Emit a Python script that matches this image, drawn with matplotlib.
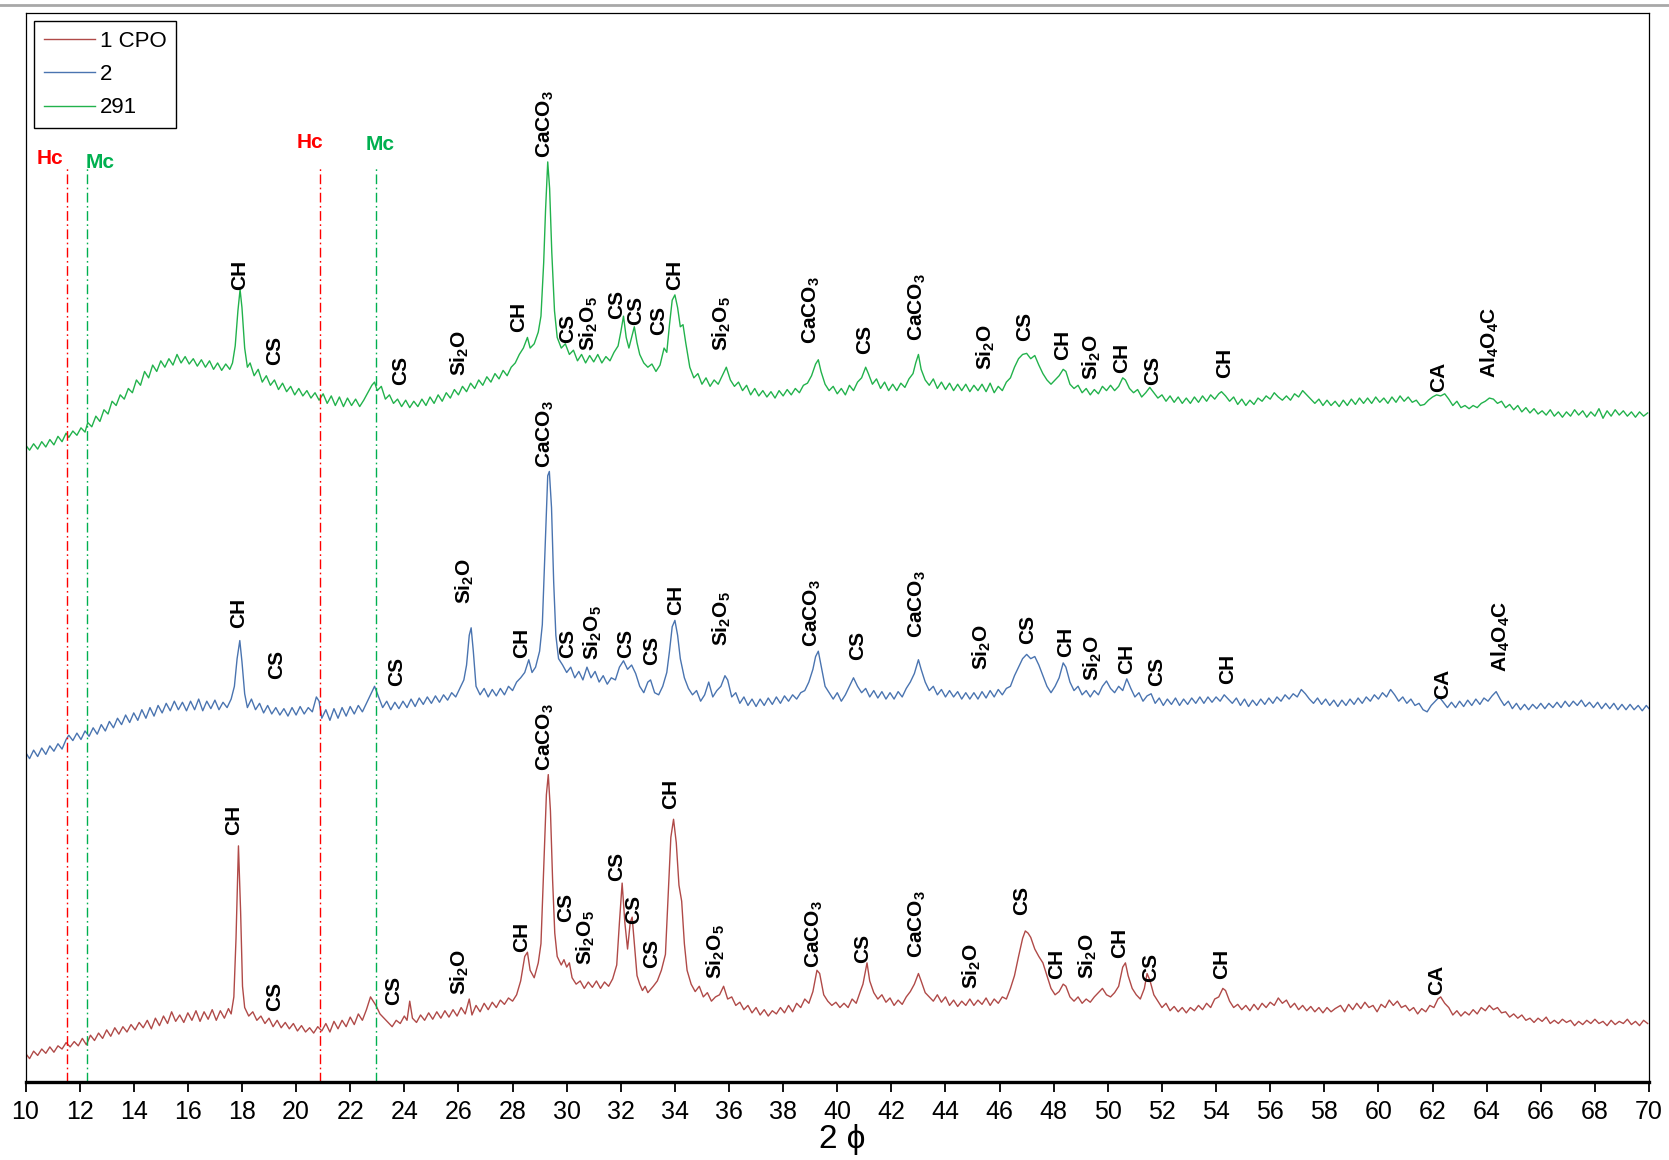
import matplotlib
matplotlib.use("Agg")
import matplotlib.pyplot as plt
from matplotlib.lines import Line2D
import numpy as np

plt.rcParams['font.family'] = ['Liberation Sans', 'DejaVu Sans']
plt.rcParams['mathtext.fontset'] = 'custom'
plt.rcParams['mathtext.rm'] = 'Liberation Sans'
plt.rcParams['mathtext.bf'] = 'Liberation Sans:bold'
plt.rcParams['mathtext.default'] = 'bf'

# difractogramas (2theta, intensidad desplazada), muestras 1 CPO, 2 y 291
cpo1 = [
    (10.0, 27), (10.15, 22), (10.3, 29), (10.45, 25), (10.6, 31), (10.75, 27), (10.9, 33), (11.05, 28),
    (11.2, 34), (11.35, 31), (11.5, 37), (11.65, 33), (11.8, 38), (11.95, 34), (12.1, 41), (12.25, 35),
    (12.4, 44), (12.55, 39), (12.7, 46), (12.85, 41), (13.0, 49), (13.15, 43), (13.3, 51), (13.45, 45),
    (13.6, 52), (13.75, 47), (13.9, 54), (14.05, 49), (14.2, 56), (14.35, 51), (14.5, 58), (14.65, 50),
    (14.8, 60), (14.95, 53), (15.1, 62), (15.25, 55), (15.4, 66), (15.55, 57), (15.7, 63), (15.85, 56),
    (16.0, 65), (16.15, 58), (16.3, 67), (16.45, 57), (16.6, 66), (16.75, 59), (16.9, 68), (17.05, 58),
    (17.2, 67), (17.35, 60), (17.5, 69), (17.6, 64), (17.7, 80), (17.78, 135), (17.87, 222), (17.95, 160),
    (18.02, 90), (18.1, 70), (18.25, 62), (18.4, 66), (18.55, 58), (18.7, 62), (18.85, 55), (19.0, 60),
    (19.15, 52), (19.3, 58), (19.45, 51), (19.6, 56), (19.75, 50), (19.9, 55), (20.05, 48), (20.2, 53),
    (20.35, 47), (20.5, 51), (20.65, 46), (20.8, 52), (20.95, 48), (21.1, 55), (21.25, 47), (21.4, 57),
    (21.55, 50), (21.7, 58), (21.85, 52), (22.0, 61), (22.15, 54), (22.3, 64), (22.45, 58), (22.6, 68),
    (22.75, 80), (22.85, 76), (22.95, 72), (23.1, 64), (23.25, 60), (23.4, 56), (23.55, 52), (23.7, 58),
    (23.85, 55), (24.0, 62), (24.1, 58), (24.2, 76), (24.3, 60), (24.45, 56), (24.6, 63), (24.75, 58),
    (24.9, 65), (25.05, 59), (25.2, 66), (25.35, 60), (25.5, 67), (25.65, 61), (25.8, 68), (25.95, 62),
    (26.1, 70), (26.25, 64), (26.4, 78), (26.5, 63), (26.65, 72), (26.8, 66), (26.95, 74), (27.1, 68),
    (27.25, 75), (27.4, 70), (27.55, 77), (27.7, 73), (27.85, 79), (28.0, 76), (28.15, 82), (28.3, 95),
    (28.45, 118), (28.55, 122), (28.65, 105), (28.8, 98), (28.95, 112), (29.05, 130), (29.15, 200),
    (29.25, 270), (29.32, 289), (29.4, 255), (29.48, 190), (29.56, 140), (29.65, 118), (29.8, 110),
    (29.9, 115), (30.0, 108), (30.1, 112), (30.2, 98), (30.35, 92), (30.5, 95), (30.65, 88), (30.8, 94),
    (30.95, 89), (31.1, 95), (31.25, 88), (31.4, 94), (31.55, 90), (31.7, 97), (31.85, 110), (31.95, 150),
    (32.05, 187), (32.15, 150), (32.25, 125), (32.35, 150), (32.42, 155), (32.5, 130), (32.6, 100),
    (32.7, 92), (32.8, 86), (32.9, 90), (33.0, 84), (33.2, 90), (33.35, 95), (33.5, 105), (33.65, 120),
    (33.75, 175), (33.85, 230), (33.95, 247), (34.05, 225), (34.15, 185), (34.25, 170), (34.35, 130),
    (34.45, 105), (34.6, 92), (34.75, 85), (34.9, 90), (35.05, 80), (35.2, 84), (35.35, 76), (35.5, 80),
    (35.65, 82), (35.8, 90), (35.95, 78), (36.1, 80), (36.25, 72), (36.4, 75), (36.55, 68), (36.7, 72),
    (36.85, 65), (37.0, 70), (37.15, 63), (37.3, 68), (37.45, 62), (37.6, 67), (37.75, 64), (37.9, 70),
    (38.05, 65), (38.2, 72), (38.35, 66), (38.5, 74), (38.65, 70), (38.8, 78), (38.95, 74), (39.1, 85),
    (39.25, 105), (39.35, 102), (39.5, 82), (39.65, 76), (39.8, 72), (39.95, 75), (40.1, 70), (40.25, 74),
    (40.4, 70), (40.55, 78), (40.7, 74), (40.85, 85), (40.95, 92), (41.1, 112), (41.2, 95), (41.35, 84),
    (41.5, 78), (41.65, 82), (41.8, 75), (41.95, 79), (42.1, 72), (42.25, 77), (42.4, 73), (42.55, 80),
    (42.7, 85), (42.85, 92), (43.0, 102), (43.1, 95), (43.25, 84), (43.4, 80), (43.55, 76), (43.7, 82),
    (43.85, 75), (44.0, 80), (44.15, 72), (44.3, 77), (44.45, 71), (44.6, 76), (44.75, 72), (44.9, 78),
    (45.05, 72), (45.2, 77), (45.35, 73), (45.5, 79), (45.65, 72), (45.8, 78), (45.95, 74), (46.1, 80),
    (46.25, 78), (46.4, 88), (46.55, 100), (46.7, 118), (46.85, 135), (46.95, 142), (47.05, 140),
    (47.15, 136), (47.3, 125), (47.45, 118), (47.6, 112), (47.75, 100), (47.9, 88), (48.05, 82),
    (48.2, 85), (48.35, 92), (48.45, 90), (48.6, 80), (48.75, 76), (48.9, 80), (49.05, 74), (49.2, 78),
    (49.35, 75), (49.5, 80), (49.65, 84), (49.8, 88), (49.95, 82), (50.1, 80), (50.25, 84), (50.4, 90),
    (50.55, 108), (50.65, 112), (50.75, 100), (50.9, 88), (51.05, 82), (51.2, 78), (51.35, 88),
    (51.45, 102), (51.55, 96), (51.7, 82), (51.85, 76), (52.0, 70), (52.15, 74), (52.3, 67), (52.45, 71),
    (52.6, 66), (52.75, 70), (52.9, 65), (53.05, 70), (53.2, 67), (53.35, 72), (53.5, 68), (53.65, 74),
    (53.8, 70), (53.95, 78), (54.1, 80), (54.25, 88), (54.35, 86), (54.5, 76), (54.65, 70), (54.8, 73),
    (54.95, 68), (55.1, 72), (55.25, 67), (55.4, 73), (55.55, 68), (55.7, 74), (55.85, 70), (56.0, 75),
    (56.15, 72), (56.3, 79), (56.45, 74), (56.6, 77), (56.75, 70), (56.9, 74), (57.05, 68), (57.2, 72),
    (57.35, 67), (57.5, 71), (57.65, 66), (57.8, 70), (57.95, 65), (58.1, 70), (58.25, 66), (58.4, 69),
    (58.6, 72), (58.75, 66), (58.9, 73), (59.05, 68), (59.2, 74), (59.35, 69), (59.5, 75), (59.65, 70),
    (59.8, 72), (59.95, 66), (60.1, 73), (60.25, 70), (60.4, 77), (60.55, 72), (60.7, 76), (60.85, 70),
    (61.0, 72), (61.15, 67), (61.3, 70), (61.45, 64), (61.6, 69), (61.75, 66), (61.9, 72), (62.05, 70),
    (62.2, 78), (62.3, 80), (62.45, 74), (62.6, 70), (62.75, 63), (62.9, 67), (63.05, 62), (63.2, 66),
    (63.35, 63), (63.5, 68), (63.65, 64), (63.8, 70), (63.95, 67), (64.1, 72), (64.25, 68), (64.4, 70),
    (64.55, 65), (64.7, 66), (64.85, 61), (65.0, 64), (65.15, 60), (65.3, 63), (65.45, 58), (65.6, 60),
    (65.75, 56), (65.9, 60), (66.05, 57), (66.2, 61), (66.35, 55), (66.5, 58), (66.65, 55), (66.8, 59),
    (66.95, 56), (67.1, 58), (67.25, 53), (67.4, 57), (67.55, 54), (67.7, 58), (67.85, 55), (68.0, 59),
    (68.15, 55), (68.3, 57), (68.45, 53), (68.6, 58), (68.75, 54), (68.9, 57), (69.05, 55), (69.2, 59),
    (69.35, 54), (69.5, 57), (69.65, 53), (69.8, 58), (69.95, 55),
]

m2 = [
    (10.0, 310), (10.15, 304), (10.3, 312), (10.45, 306), (10.6, 314), (10.75, 308), (10.9, 316), (11.05, 311),
    (11.2, 318), (11.35, 313), (11.5, 322), (11.6, 326), (11.75, 321), (11.9, 328), (12.05, 322), (12.2, 330),
    (12.35, 325), (12.5, 333), (12.65, 327), (12.8, 336), (12.95, 330), (13.1, 339), (13.25, 333), (13.4, 342),
    (13.55, 336), (13.7, 345), (13.85, 338), (14.0, 347), (14.15, 340), (14.3, 350), (14.45, 342), (14.6, 352),
    (14.75, 344), (14.9, 354), (15.05, 347), (15.2, 356), (15.35, 349), (15.5, 358), (15.65, 350), (15.8, 357),
    (15.95, 349), (16.1, 358), (16.25, 350), (16.4, 360), (16.55, 349), (16.7, 358), (16.85, 351), (17.0, 359),
    (17.15, 350), (17.3, 357), (17.45, 352), (17.6, 360), (17.72, 372), (17.82, 398), (17.92, 415), (18.0, 395),
    (18.1, 365), (18.2, 352), (18.35, 360), (18.5, 350), (18.65, 356), (18.8, 347), (18.95, 354), (19.1, 346),
    (19.25, 352), (19.4, 345), (19.55, 351), (19.7, 344), (19.85, 352), (20.0, 345), (20.15, 353), (20.3, 346),
    (20.45, 352), (20.6, 348), (20.75, 362), (20.85, 358), (20.95, 342), (21.1, 350), (21.25, 340), (21.4, 351),
    (21.55, 342), (21.7, 352), (21.85, 344), (22.0, 353), (22.15, 346), (22.3, 354), (22.45, 348), (22.6, 356),
    (22.75, 364), (22.9, 372), (23.05, 362), (23.2, 352), (23.35, 358), (23.5, 350), (23.65, 357), (23.8, 351),
    (23.95, 358), (24.1, 352), (24.25, 360), (24.4, 353), (24.55, 361), (24.7, 355), (24.85, 362), (25.0, 356),
    (25.15, 363), (25.3, 357), (25.45, 364), (25.6, 359), (25.75, 366), (25.9, 362), (26.05, 370), (26.2, 378),
    (26.3, 392), (26.4, 420), (26.47, 427), (26.55, 405), (26.65, 372), (26.8, 364), (26.95, 370), (27.1, 362),
    (27.25, 369), (27.4, 363), (27.55, 370), (27.7, 364), (27.85, 372), (28.0, 368), (28.15, 376), (28.3, 380),
    (28.45, 385), (28.6, 397), (28.72, 385), (28.85, 390), (29.0, 405), (29.1, 430), (29.2, 500), (29.3, 570),
    (29.36, 574), (29.44, 540), (29.52, 470), (29.6, 420), (29.7, 398), (29.85, 392), (30.0, 385), (30.15, 390),
    (30.3, 380), (30.45, 386), (30.6, 378), (30.75, 390), (30.9, 380), (31.05, 386), (31.2, 376), (31.35, 382),
    (31.5, 374), (31.65, 380), (31.8, 378), (31.95, 390), (32.1, 396), (32.25, 388), (32.4, 392), (32.55, 384),
    (32.7, 372), (32.85, 366), (33.0, 376), (33.1, 378), (33.25, 366), (33.4, 364), (33.55, 372), (33.7, 385),
    (33.8, 405), (33.9, 428), (34.0, 434), (34.1, 420), (34.2, 398), (34.35, 380), (34.5, 370), (34.65, 364),
    (34.8, 368), (34.95, 358), (35.1, 364), (35.25, 376), (35.4, 362), (35.55, 368), (35.7, 372), (35.85, 382),
    (35.95, 378), (36.1, 362), (36.25, 366), (36.4, 356), (36.55, 362), (36.7, 354), (36.85, 360), (37.0, 353),
    (37.15, 360), (37.3, 354), (37.45, 361), (37.6, 355), (37.75, 362), (37.9, 356), (38.05, 363), (38.2, 358),
    (38.35, 364), (38.5, 360), (38.65, 366), (38.8, 368), (38.95, 376), (39.1, 388), (39.2, 400), (39.3, 405),
    (39.4, 392), (39.55, 372), (39.7, 366), (39.85, 360), (40.0, 366), (40.15, 358), (40.3, 364), (40.45, 372),
    (40.6, 380), (40.75, 372), (40.9, 366), (41.05, 370), (41.2, 362), (41.35, 368), (41.5, 361), (41.65, 367),
    (41.8, 360), (41.95, 366), (42.1, 360), (42.25, 367), (42.4, 362), (42.55, 370), (42.7, 376), (42.85, 384),
    (43.0, 397), (43.1, 388), (43.25, 376), (43.4, 368), (43.55, 372), (43.7, 364), (43.85, 369), (44.0, 362),
    (44.15, 368), (44.3, 362), (44.45, 367), (44.6, 360), (44.75, 366), (44.9, 360), (45.05, 366), (45.2, 360),
    (45.35, 367), (45.5, 361), (45.65, 368), (45.8, 362), (45.95, 369), (46.1, 364), (46.25, 370), (46.4, 372),
    (46.55, 382), (46.7, 390), (46.85, 398), (47.0, 402), (47.15, 398), (47.3, 400), (47.45, 392), (47.6, 382),
    (47.75, 372), (47.9, 366), (48.05, 372), (48.2, 380), (48.35, 394), (48.45, 390), (48.6, 376), (48.75, 368),
    (48.9, 372), (49.05, 364), (49.2, 368), (49.35, 362), (49.5, 368), (49.65, 364), (49.8, 372), (49.95, 377),
    (50.1, 370), (50.25, 366), (50.4, 372), (50.55, 368), (50.7, 379), (50.85, 370), (51.0, 362), (51.15, 366),
    (51.3, 358), (51.45, 363), (51.6, 365), (51.75, 356), (51.9, 361), (52.05, 354), (52.2, 360), (52.35, 355),
    (52.5, 361), (52.65, 354), (52.8, 360), (52.95, 355), (53.1, 361), (53.25, 356), (53.4, 362), (53.55, 356),
    (53.7, 362), (53.85, 357), (54.0, 362), (54.15, 358), (54.3, 364), (54.45, 360), (54.6, 356), (54.75, 361),
    (54.9, 354), (55.05, 360), (55.2, 353), (55.35, 359), (55.5, 354), (55.65, 360), (55.8, 355), (55.95, 361),
    (56.1, 356), (56.25, 362), (56.4, 358), (56.55, 364), (56.7, 360), (56.85, 365), (57.0, 362), (57.15, 369),
    (57.3, 365), (57.45, 360), (57.6, 356), (57.75, 361), (57.9, 355), (58.05, 360), (58.2, 354), (58.35, 359),
    (58.5, 353), (58.65, 359), (58.8, 354), (58.95, 360), (59.1, 355), (59.25, 361), (59.4, 356), (59.55, 362),
    (59.7, 358), (59.85, 364), (60.0, 360), (60.15, 366), (60.3, 362), (60.45, 369), (60.6, 364), (60.75, 358),
    (60.9, 362), (61.05, 356), (61.2, 360), (61.35, 354), (61.5, 356), (61.65, 350), (61.8, 348), (61.95, 354),
    (62.1, 358), (62.25, 362), (62.4, 357), (62.55, 352), (62.7, 357), (62.85, 352), (63.0, 358), (63.15, 353),
    (63.3, 359), (63.45, 354), (63.6, 360), (63.75, 355), (63.9, 361), (64.05, 358), (64.2, 363), (64.35, 367),
    (64.5, 360), (64.65, 354), (64.8, 358), (64.95, 351), (65.1, 356), (65.25, 350), (65.4, 355), (65.55, 350),
    (65.7, 355), (65.85, 351), (66.0, 356), (66.15, 351), (66.3, 356), (66.45, 352), (66.6, 357), (66.75, 352),
    (66.9, 358), (67.05, 353), (67.2, 358), (67.35, 354), (67.5, 359), (67.65, 353), (67.8, 357), (67.95, 352),
    (68.1, 357), (68.25, 351), (68.4, 356), (68.55, 351), (68.7, 356), (68.85, 350), (69.0, 355), (69.15, 350),
    (69.3, 355), (69.45, 350), (69.6, 354), (69.75, 349), (69.9, 354), (70.0, 351),
]

m291 = [
    (10.0, 599), (10.15, 594), (10.3, 600), (10.45, 595), (10.6, 602), (10.75, 597), (10.9, 604), (11.05, 599),
    (11.2, 607), (11.35, 602), (11.5, 610), (11.6, 606), (11.75, 612), (11.9, 608), (12.05, 615), (12.2, 611),
    (12.3, 620), (12.45, 616), (12.6, 626), (12.75, 621), (12.9, 632), (13.05, 628), (13.2, 640), (13.35, 636),
    (13.5, 646), (13.65, 642), (13.8, 652), (13.95, 648), (14.1, 660), (14.25, 655), (14.4, 668), (14.55, 662),
    (14.7, 674), (14.85, 668), (15.0, 678), (15.15, 672), (15.3, 680), (15.45, 674), (15.6, 684), (15.75, 676),
    (15.9, 682), (16.05, 675), (16.2, 680), (16.35, 673), (16.5, 679), (16.65, 672), (16.8, 678), (16.95, 670),
    (17.1, 676), (17.25, 669), (17.4, 675), (17.55, 670), (17.65, 676), (17.75, 692), (17.85, 725), (17.93, 745),
    (18.0, 728), (18.1, 690), (18.2, 672), (18.3, 676), (18.45, 664), (18.6, 670), (18.75, 658), (18.9, 664),
    (19.05, 655), (19.2, 660), (19.35, 651), (19.5, 657), (19.65, 649), (19.8, 654), (19.95, 646), (20.1, 652),
    (20.25, 645), (20.4, 650), (20.55, 643), (20.7, 648), (20.85, 641), (21.0, 647), (21.15, 638), (21.3, 645),
    (21.45, 636), (21.6, 644), (21.75, 635), (21.9, 643), (22.05, 636), (22.2, 642), (22.35, 635), (22.5, 641),
    (22.65, 648), (22.8, 655), (22.9, 658), (23.0, 650), (23.15, 654), (23.3, 642), (23.45, 646), (23.6, 638),
    (23.75, 642), (23.9, 635), (24.05, 641), (24.2, 634), (24.35, 640), (24.5, 635), (24.65, 642), (24.8, 636),
    (24.95, 644), (25.1, 638), (25.25, 646), (25.4, 640), (25.55, 648), (25.7, 643), (25.85, 651), (26.0, 646),
    (26.15, 654), (26.3, 649), (26.45, 657), (26.6, 652), (26.75, 660), (26.9, 655), (27.05, 663), (27.2, 658),
    (27.35, 666), (27.5, 661), (27.65, 669), (27.8, 664), (27.95, 672), (28.1, 676), (28.25, 684), (28.4, 690),
    (28.55, 700), (28.65, 690), (28.8, 694), (28.95, 705), (29.05, 720), (29.15, 770), (29.22, 820), (29.3, 865),
    (29.37, 840), (29.45, 780), (29.55, 725), (29.65, 700), (29.8, 690), (29.95, 694), (30.1, 684), (30.25, 688),
    (30.4, 678), (30.55, 684), (30.7, 676), (30.85, 683), (31.0, 677), (31.15, 684), (31.3, 676), (31.45, 682),
    (31.6, 678), (31.75, 686), (31.9, 692), (32.0, 705), (32.1, 720), (32.2, 700), (32.3, 690), (32.4, 700),
    (32.5, 710), (32.6, 695), (32.7, 684), (32.85, 676), (33.0, 672), (33.15, 675), (33.3, 668), (33.45, 674),
    (33.6, 690), (33.7, 686), (33.8, 712), (33.9, 735), (34.0, 740), (34.1, 728), (34.2, 710), (34.3, 712),
    (34.4, 695), (34.55, 672), (34.7, 662), (34.85, 666), (35.0, 656), (35.15, 662), (35.3, 654), (35.45, 660),
    (35.6, 656), (35.75, 664), (35.9, 672), (36.05, 660), (36.2, 654), (36.35, 658), (36.5, 650), (36.65, 655),
    (36.8, 646), (36.95, 652), (37.1, 645), (37.25, 650), (37.4, 644), (37.55, 649), (37.7, 643), (37.85, 650),
    (38.0, 645), (38.15, 651), (38.3, 646), (38.45, 652), (38.6, 648), (38.75, 655), (38.9, 657), (39.05, 664),
    (39.2, 675), (39.3, 679), (39.4, 668), (39.55, 656), (39.7, 650), (39.85, 654), (40.0, 647), (40.15, 652),
    (40.3, 646), (40.45, 655), (40.6, 650), (40.75, 658), (40.9, 662), (41.05, 672), (41.15, 666), (41.3, 656),
    (41.45, 661), (41.6, 652), (41.75, 658), (41.9, 650), (42.05, 656), (42.2, 650), (42.35, 657), (42.5, 653),
    (42.65, 661), (42.8, 666), (42.9, 676), (43.0, 684), (43.1, 670), (43.25, 660), (43.4, 655), (43.55, 661),
    (43.7, 652), (43.85, 658), (44.0, 651), (44.15, 657), (44.3, 650), (44.45, 656), (44.6, 650), (44.75, 656),
    (44.9, 649), (45.05, 655), (45.2, 650), (45.35, 656), (45.5, 649), (45.65, 657), (45.8, 648), (45.95, 654),
    (46.1, 650), (46.25, 658), (46.4, 662), (46.55, 672), (46.7, 680), (46.85, 684), (47.0, 685), (47.15, 680),
    (47.3, 683), (47.45, 674), (47.6, 666), (47.75, 660), (47.9, 656), (48.05, 660), (48.2, 664), (48.35, 670),
    (48.45, 668), (48.6, 656), (48.75, 652), (48.9, 655), (49.05, 648), (49.2, 652), (49.35, 646), (49.5, 651),
    (49.65, 647), (49.8, 654), (49.95, 650), (50.1, 655), (50.25, 650), (50.4, 654), (50.55, 662), (50.65, 660),
    (50.8, 652), (50.95, 648), (51.1, 651), (51.25, 644), (51.4, 648), (51.55, 653), (51.7, 648), (51.85, 643),
    (52.0, 646), (52.15, 640), (52.3, 645), (52.45, 639), (52.6, 644), (52.75, 638), (52.9, 643), (53.05, 638),
    (53.2, 644), (53.35, 639), (53.5, 645), (53.65, 640), (53.8, 646), (53.95, 642), (54.1, 647), (54.2, 649),
    (54.35, 645), (54.5, 640), (54.65, 644), (54.8, 637), (54.95, 642), (55.1, 636), (55.25, 641), (55.4, 637),
    (55.55, 643), (55.7, 640), (55.85, 645), (56.0, 642), (56.15, 648), (56.3, 644), (56.45, 641), (56.6, 645),
    (56.75, 641), (56.9, 647), (57.05, 644), (57.2, 650), (57.35, 646), (57.5, 642), (57.65, 638), (57.8, 642),
    (57.95, 636), (58.1, 641), (58.25, 636), (58.4, 640), (58.55, 635), (58.7, 641), (58.85, 636), (59.0, 642),
    (59.15, 637), (59.3, 643), (59.45, 638), (59.6, 643), (59.75, 638), (59.9, 644), (60.05, 639), (60.2, 643),
    (60.35, 638), (60.5, 644), (60.65, 639), (60.8, 645), (60.95, 640), (61.1, 644), (61.25, 639), (61.4, 641),
    (61.55, 636), (61.7, 637), (61.85, 641), (62.0, 644), (62.15, 646), (62.3, 645), (62.45, 647), (62.6, 642),
    (62.75, 636), (62.9, 640), (63.05, 634), (63.2, 636), (63.35, 633), (63.5, 636), (63.65, 634), (63.8, 638),
    (63.95, 640), (64.1, 643), (64.25, 642), (64.4, 638), (64.55, 640), (64.7, 634), (64.85, 637), (65.0, 632),
    (65.15, 636), (65.3, 630), (65.45, 634), (65.6, 629), (65.75, 633), (65.9, 628), (66.05, 631), (66.2, 627),
    (66.35, 632), (66.5, 626), (66.65, 630), (66.8, 625), (66.95, 630), (67.1, 626), (67.25, 632), (67.4, 627),
    (67.55, 631), (67.7, 625), (67.85, 630), (68.0, 626), (68.15, 633), (68.3, 624), (68.45, 631), (68.6, 626),
    (68.75, 632), (68.9, 627), (69.05, 631), (69.2, 626), (69.35, 630), (69.5, 625), (69.65, 630), (69.8, 626),
    (69.95, 629),
]

# fases identificadas: (2theta, altura base del rotulo, texto)
picos_cpo1 = [
    (17.71, 232, 'CH'), (19.2, 67, 'CS'), (23.61, 72, 'CS'), (26.05, 82, 'Si$_2$O'), (28.33, 122, 'CH'),
    (29.2, 292, 'CaCO$_3$'), (29.95, 150, 'CS'), (30.72, 110, 'Si$_2$O$_5$'), (31.83, 189, 'CS'),
    (32.46, 149, 'CS'), (33.13, 107, 'CS'), (33.84, 257, 'CH'), (35.53, 97, 'Si$_2$O$_5$'),
    (39.15, 107, 'CaCO$_3$'), (40.92, 112, 'CS'), (42.97, 117, 'CaCO$_3$'), (44.97, 87, 'Si$_2$O'),
    (46.82, 157, 'CS'), (48.12, 97, 'CH'), (49.26, 97, 'Si$_2$O'), (50.44, 117, 'CH'), (51.58, 94, 'CS'),
    (54.22, 97, 'CH'), (62.16, 82, 'CA'),
]
picos_m2 = [
    (17.87, 427, 'CH'), (19.28, 379, 'CS'), (23.73, 372, 'CS'), (26.25, 449, 'Si$_2$O'), (28.33, 399, 'CH'),
    (29.2, 577, 'CaCO$_3$'), (30.02, 399, 'CS'), (30.97, 397, 'Si$_2$O$_5$'), (32.19, 399, 'CS'),
    (33.13, 392, 'CS'), (34.04, 439, 'CH'), (35.73, 410, 'Si$_2$O$_5$'), (39.07, 409, 'CaCO$_3$'),
    (40.76, 397, 'CS'), (42.97, 417, 'CaCO$_3$'), (45.33, 387, 'Si$_2$O'), (47.02, 412, 'CS'),
    (48.43, 400, 'CH'), (49.46, 377, 'Si$_2$O'), (50.68, 384, 'CH'), (51.82, 372, 'CS'), (54.41, 374, 'CH'),
    (62.36, 360, 'CA'), (64.52, 385, 'Al$_4$O$_4$C'),
]
picos_m291 = [
    (17.91, 745, 'CH'), (19.2, 674, 'CS'), (23.85, 655, 'CS'), (26.05, 664, 'Si$_2$O'), (28.21, 705, 'CH'),
    (29.2, 869, 'CaCO$_3$'), (30.02, 695, 'CS'), (30.81, 687, 'Si$_2$O$_5$'), (31.83, 717, 'CS'),
    (32.54, 712, 'CS'), (33.41, 702, 'CS'), (33.99, 745, 'CH'), (35.73, 687, 'Si$_2$O$_5$'),
    (39.03, 694, 'CaCO$_3$'), (41.0, 684, 'CS'), (42.97, 697, 'CaCO$_3$'), (45.48, 669, 'Si$_2$O'),
    (46.94, 697, 'CS'), (48.32, 679, 'CH'), (49.42, 660, 'Si$_2$O'), (50.52, 667, 'CH'), (51.66, 655, 'CS'),
    (54.3, 662, 'CH'), (62.24, 649, 'CA'), (64.13, 662, 'Al$_4$O$_4$C'),
]

# lineas de referencia Hc / Mc
hc_pos = [11.52, 20.88]
mc_pos = [12.26, 22.95]
ref_top = 860
hc_rotulos = [(10.89, 868), (20.5, 883)]
mc_rotulos = [(12.77, 864), (23.1, 881)]

c_rojo = '#B04A48'
c_azul = '#4A74B0'
c_verde = '#22B24C'

fig = plt.figure(figsize=(16.69, 11.6), dpi=100)
ax = fig.add_axes([0.01528, 0.06724, 0.97274, 0.92155])

for datos, color, nombre in [(cpo1, c_rojo, '1 CPO'), (m2, c_azul, '2'), (m291, c_verde, '291')]:
    d = np.array(datos)
    ax.plot(d[:, 0], d[:, 1], color=color, lw=1.0, label=nombre)

for picos in (picos_cpo1, picos_m2, picos_m291):
    for x, y, txt in picos:
        ax.text(x, y, txt, rotation=90, ha='center', va='bottom', fontsize=15, fontweight='bold')

estilo = (0, (7, 2.5, 1.2, 2.5))
for x in hc_pos:
    ax.plot([x, x], [0, ref_top], color='#FF0000', lw=1.0, linestyle=estilo)
for x in mc_pos:
    ax.plot([x, x], [0, ref_top], color='#00B050', lw=1.0, linestyle=estilo)
for x, y in hc_rotulos:
    ax.text(x, y, 'Hc', color='#FF0000', fontsize=15, fontweight='bold', ha='center', va='center')
for x, y in mc_rotulos:
    ax.text(x, y, 'Mc', color='#00B050', fontsize=15, fontweight='bold', ha='center', va='center')

ax.set_xlim(10, 70)
ax.set_ylim(0, 1005)
ax.set_xticks(np.arange(10, 71, 2))
ax.set_yticks([])
for lado in ('left', 'top', 'right'):
    ax.spines[lado].set_linewidth(0.9)
ax.spines['bottom'].set_linewidth(2.4)
ax.tick_params(axis='x', direction='out', length=7, width=1.3, pad=6, labelsize=18)
for lab in ax.get_xticklabels():
    lab.set_family(['Liberation Sans Narrow', 'Liberation Sans'])

leg = ax.legend(loc='upper left', bbox_to_anchor=(0.0052, 0.9925), borderaxespad=0,
                fontsize=16, handlelength=2.3, handletextpad=0.2, labelspacing=0.55,
                borderpad=0.45, fancybox=False, framealpha=1, edgecolor='black')
leg.get_frame().set_linewidth(1.0)

fig.text(0.5045, 0.018, '2 ϕ', ha='center', va='center', fontsize=24,
         family=['Liberation Sans Narrow', 'Liberation Sans', 'DejaVu Sans'])

fig.add_artist(Line2D([0, 1], [0.9955, 0.9955], transform=fig.transFigure, color='#A8A8A8', lw=2))

fig.savefig('out.png', dpi=100)
